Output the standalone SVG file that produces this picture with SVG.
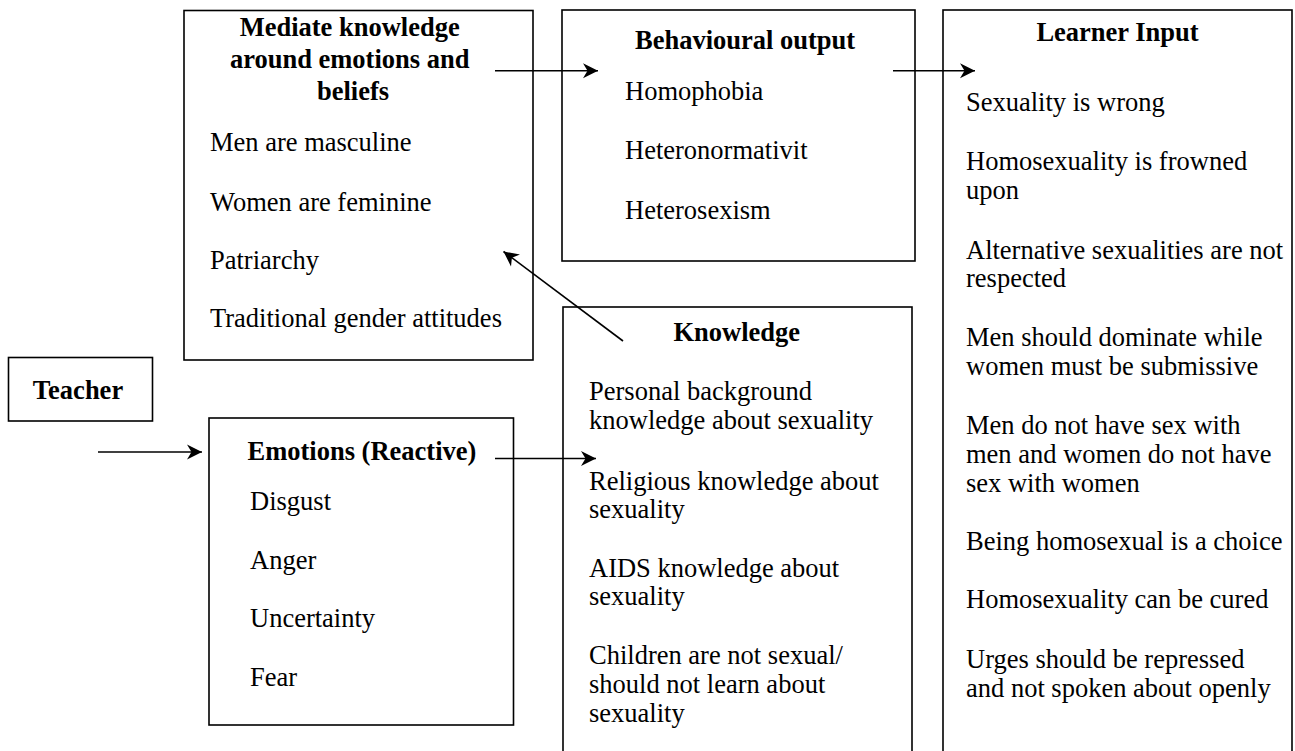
<svg xmlns="http://www.w3.org/2000/svg" width="1295" height="751" viewBox="0 0 1295 751">
  <style>
    .box { fill: #ffffff; stroke: #000000; stroke-width: 1.6; }
    .title { font-family: "Liberation Serif", "Times New Roman", serif; font-size: 26.5px; font-weight: bold; fill: #000000; }
    .item { font-family: "Liberation Serif", "Times New Roman", serif; font-size: 26.5px; fill: #000000; }
    .link { fill: none; stroke: #000000; stroke-width: 1.6; marker-end: url(#arrow); }
  </style>
  <defs>
    <marker id="arrow" markerUnits="userSpaceOnUse" viewBox="-16 -9 17 18" refX="0" refY="0" markerWidth="17" markerHeight="18" orient="auto">
      <path d="M0,0 L-15,-7.5 L-10.5,0 L-15,7.5 Z" fill="#000000"/>
    </marker>
  </defs>

  <rect width="1295" height="751" fill="#ffffff"/>

  <!-- Mediating knowledge -->
  <g id="mediate">
    <rect class="box" x="184" y="10.5" width="349" height="349.5"/>
    <text class="title" text-anchor="middle" x="353">
      <tspan x="353" y="35.5">Mediate knowledge</tspan>
      <tspan x="353" y="68">around emotions and</tspan>
      <tspan x="353" y="100">beliefs</tspan>
    </text>
    <text class="item" x="210" y="150.5">Men are masculine</text>
    <text class="item" x="210" y="210.5">Women are feminine</text>
    <text class="item" x="210" y="268.5">Patriarchy</text>
    <text class="item" x="210" y="327">Traditional gender attitudes</text>
  </g>

  <!-- Behavioural output -->
  <g id="behavioural">
    <rect class="box" x="562" y="10" width="353" height="251"/>
    <text class="title" x="635" y="48.5">Behavioural output</text>
    <text class="item" x="625" y="100">Homophobia</text>
    <text class="item" x="625" y="158.5">Heteronormativit</text>
    <text class="item" x="625" y="218.5">Heterosexism</text>
  </g>

  <!-- Learner input -->
  <g id="learner">
    <rect class="box" x="943" y="10" width="349" height="770"/>
    <text class="title" text-anchor="middle" x="1117.5" y="40.5">Learner Input</text>
    <text class="item" x="966" y="111">Sexuality is wrong</text>
    <text class="item" x="966" y="170">Homosexuality is frowned</text>
    <text class="item" x="966" y="199">upon</text>
    <text class="item" x="966" y="258.5">Alternative sexualities are not</text>
    <text class="item" x="966" y="287">respected</text>
    <text class="item" x="966" y="346">Men should dominate while</text>
    <text class="item" x="966" y="374.5">women must be submissive</text>
    <text class="item" x="966" y="433.5">Men do not have sex with</text>
    <text class="item" x="966" y="462.5">men and women do not have</text>
    <text class="item" x="966" y="491.5">sex with women</text>
    <text class="item" x="966" y="550">Being homosexual is a choice</text>
    <text class="item" x="966" y="608">Homosexuality can be cured</text>
    <text class="item" x="966" y="668">Urges should be repressed</text>
    <text class="item" x="966" y="696.5">and not spoken about openly</text>
  </g>

  <!-- Knowledge -->
  <g id="knowledge">
    <rect class="box" x="563" y="307" width="349" height="470"/>
    <text class="title" x="673.5" y="340.5">Knowledge</text>
    <text class="item" x="589" y="400">Personal background</text>
    <text class="item" x="589" y="428.5">knowledge about sexuality</text>
    <text class="item" x="589" y="489.5">Religious knowledge about</text>
    <text class="item" x="589" y="518">sexuality</text>
    <text class="item" x="589" y="576.5">AIDS knowledge about</text>
    <text class="item" x="589" y="605">sexuality</text>
    <text class="item" x="589" y="664">Children are not sexual/</text>
    <text class="item" x="589" y="693">should not learn about</text>
    <text class="item" x="589" y="721.5">sexuality</text>
  </g>

  <!-- Teacher -->
  <g id="teacher">
    <rect class="box" x="8.5" y="357.5" width="144" height="63.5"/>
    <text class="title" text-anchor="middle" x="78" y="398.5">Teacher</text>
  </g>

  <!-- Emotions -->
  <g id="emotions">
    <rect class="box" x="209" y="418" width="304.5" height="307"/>
    <text class="title" x="247.5" y="460">Emotions (Reactive)</text>
    <text class="item" x="250" y="510">Disgust</text>
    <text class="item" x="250" y="568.5">Anger</text>
    <text class="item" x="250" y="627">Uncertainty</text>
    <text class="item" x="250" y="686">Fear</text>
  </g>

  <!-- Connectors -->
  <g id="connectors">
    <line class="link" x1="495" y1="70.7" x2="598" y2="70.7"/>
    <line class="link" x1="893" y1="70.7" x2="975" y2="70.7"/>
    <line class="link" x1="98" y1="452" x2="202" y2="452"/>
    <line class="link" x1="495" y1="458.5" x2="596" y2="458.5"/>
    <line class="link" x1="623" y1="341" x2="503.5" y2="251.5"/>
  </g>
</svg>
